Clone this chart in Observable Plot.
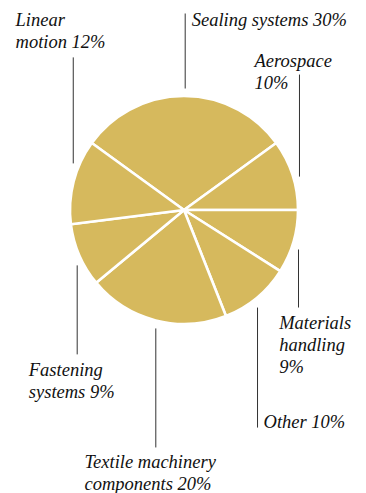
<!DOCTYPE html>
<html><head><meta charset="utf-8">
<script src="https://cdn.jsdelivr.net/npm/d3@7"></script>
<script src="https://cdn.jsdelivr.net/npm/@observablehq/plot@0.6"></script>
<style>html,body{margin:0;padding:0;background:#fff} svg{display:block}
html body #chart svg g text, html body #chart svg text{font-family:"Liberation Serif","Times New Roman",serif !important;font-style:italic !important;}</style>
</head><body><div id="chart"></div>
<script>
// ---- data ----
const categories = ["Sealing systems", "Aerospace", "Materials handling", "Other", "Textile machinery components", "Fastening systems", "Linear motion"];
const shares = [30, 10, 9, 10, 20, 9, 12];
const labelLines = [
  ["Sealing systems 30%"],
  ["Aerospace", "10%"],
  ["Materials", "handling", "9%"],
  ["Other 10%"],
  ["Textile machinery", "components 20%"],
  ["Fastening", "systems 9%"],
  ["Linear", "motion 12%"]
];

// ---- layout (pixel offsets for leader lines / labels) ----
const R = 113;           // pie radius (px)
const lineH = 22;        // label line height (px)
const layout = {
  "Sealing systems":              {ldx: 0.7,  gap: -9,  len: -75,  tdx: 6.5,   tdy: 12},
  "Aerospace":                    {ldx: 7.5,  gap: 1,   len: -102, tdx: -45,   tdy: -8},
  "Materials handling":           {ldx: 5.5,  gap: 7.5, len: 58,   tdx: -19.3, tdy: 21},
  "Other":                        {ldx: 1,    gap: 10,  len: 120,  tdx: 6,     tdy: 0},
  "Textile machinery components": {ldx: -0.6, gap: 8.5, len: 119,  tdx: -71.3, tdy: 21},
  "Fastening systems":            {ldx: -3.6, gap: 10,  len: 89,   tdx: -48.4, tdy: 22},
  "Linear motion":                {ldx: -1.8, gap: -19, len: -106, tdx: -57.7, tdy: -31}
};
const pieColor = "#d6b95d";
const labelFont = "'Liberation Serif', 'Times New Roman', serif";

const rows = categories.map((c, i) => ({category: c, share: shares[i], lines: labelLines[i]}));
const start = -(shares[0] / 100) * Math.PI; // first slice centred at 12 o'clock
const arcs = d3.pie().sort(null).value(d => d.share).startAngle(start).endAngle(start + 2 * Math.PI)(rows);

// leader lines and label rows in data units (origin = pie centre, y up, 1 unit = 1px)
const leaders = [];
const labelRows = [];
arcs.forEach(a => {
  const mid = (a.startAngle + a.endAngle) / 2;
  const L = layout[a.data.category];
  const px = R * Math.sin(mid), py = R * Math.cos(mid);
  const lx = px + L.ldx;
  const y1 = py - L.gap, y2 = y1 - L.len;
  leaders.push({x1: lx, y1, x2: lx, y2});
  const firstBase = y2 - L.tdy;
  a.data.lines.forEach((t, i) => labelRows.push({x: lx + L.tdx, y: firstBase - i * lineH, text: t}));
});

function pieMark(index, scales) {
  const {x, y} = scales;
  const r = x(R + 1) - x(0);
  const g = d3.create("svg:g").attr("transform", `translate(${x(0)},${y(0)})`);
  const arcGen = d3.arc().innerRadius(0).outerRadius(r);
  g.selectAll("path").data(arcs).join("path")
    .attr("d", arcGen)
    .attr("fill", pieColor)
    .attr("stroke", "#fff")
    .attr("stroke-width", 2.6)
    .attr("stroke-linejoin", "round");
  return g.node();
}

const chart = Plot.plot({
  width: 366,
  height: 493,
  margin: 0,
  x: {domain: [-184, 182], axis: null},
  y: {domain: [-283, 210], axis: null},
  style: {background: "#fff"},
  marks: [
    pieMark,
    Plot.link(leaders, {x1: "x1", y1: "y1", x2: "x2", y2: "y2", stroke: "#333", strokeWidth: 1}),
    Plot.text(labelRows, {
      x: "x", y: "y", text: "text",
      textAnchor: "start", lineAnchor: "bottom",
      fontFamily: "Liberation Serif", fontStyle: "italic", fontSize: 18.5,
      fill: "#111"
    })
  ]
});
function fixFonts(root) {
  root.querySelectorAll("text, tspan").forEach(t => {
    t.setAttribute("font-family", "Liberation Serif");
    t.style.setProperty("font-family", labelFont, "important");
    t.style.setProperty("font-style", "italic", "important");
  });
}
fixFonts(chart);
document.getElementById("chart").appendChild(chart);
fixFonts(chart);
</script>
</body></html>
